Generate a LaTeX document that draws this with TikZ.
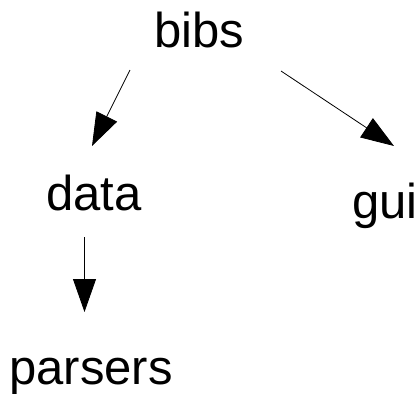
\documentclass[tikz,border=0pt]{standalone}
\usepackage{fontspec}
\setmainfont{Liberation Sans}
\usetikzlibrary{arrows.meta}
\tikzset{
  lbl/.style={anchor=base, inner sep=0pt, font=\fontsize{49bp}{59bp}\selectfont},
  dep/.style={draw=black, line width=0.8bp, -{Triangle[length=33bp,width=23bp]}}
}
\begin{document}
\begin{tikzpicture}[x=1bp,y=-1bp]
\useasboundingbox (0,0) rectangle (419,394);
\node[lbl] (bibs) at (199.5,47) {bibs};
\node[lbl] (data) at (94,210) {data};
\node[lbl] (gui) at (385,218) {gui};
\node[lbl] (parsers) at (91,384) {parsers};
\coordinate (bibsL) at (130,70);
\coordinate (dataT) at (92,146);
\coordinate (bibsR) at (281,71);
\coordinate (guiT) at (394,146);
\coordinate (dataB) at (84.5,237);
\coordinate (parsersT) at (84.5,312);
\draw[dep] (bibsL) -- (dataT);
\draw[dep] (bibsR) -- (guiT);
\draw[dep] (dataB) -- (parsersT);
\end{tikzpicture}
\end{document}
